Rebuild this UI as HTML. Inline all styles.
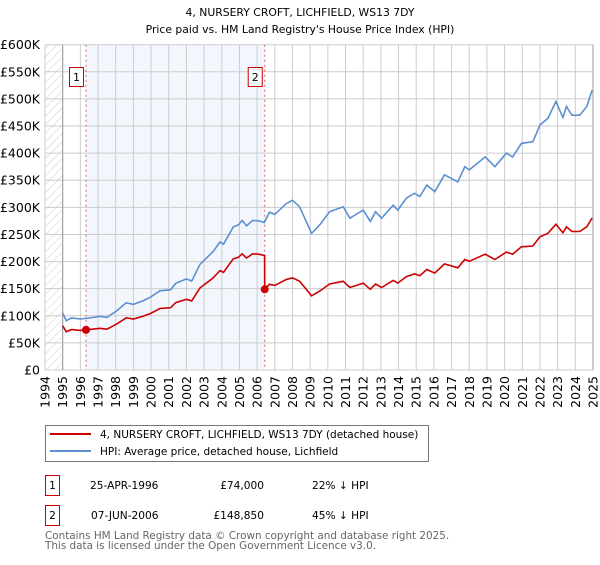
<!DOCTYPE html>
<html><head><meta charset="utf-8"><style>
body{margin:0;background:#fff;font-family:"Liberation Sans","DejaVu Sans",sans-serif;}
svg text{font-family:"DejaVu Sans","Liberation Sans",sans-serif;}
</style></head><body>
<svg id="chart" width="600" height="560" xmlns="http://www.w3.org/2000/svg">
<defs><pattern id="hatch" width="6" height="6" patternUnits="userSpaceOnUse" patternTransform="rotate(45)"><line x1="0" y1="0" x2="0" y2="6" stroke="#ccc" stroke-width="1"/></pattern></defs>
<text x="300" y="16" text-anchor="middle" font-size="10.8" fill="#000">4, NURSERY CROFT, LICHFIELD, WS13 7DY</text>
<text x="300" y="33" text-anchor="middle" font-size="10.8" fill="#000">Price paid vs. HM Land Registry's House Price Index (HPI)</text>
<g id="plot"></g>
<g>
<rect x="45.5" y="425.5" width="383" height="36" fill="#fff" stroke="#777"/>
<line x1="50" y1="434" x2="91" y2="434" stroke="#cc0000" stroke-width="2"/>
<text x="100" y="438" font-size="10.5">4, NURSERY CROFT, LICHFIELD, WS13 7DY (detached house)</text>
<line x1="50" y1="451" x2="91" y2="451" stroke="#5b8fd1" stroke-width="2"/>
<text x="100" y="455" font-size="10.5">HPI: Average price, detached house, Lichfield</text>
</g>
<g font-size="10.6">
<rect x="45.5" y="475.5" width="14" height="20" fill="#fff" stroke="#cc0000"/>
<text x="52.5" y="489" text-anchor="middle">1</text>
<text x="90" y="489">25-APR-1996</text>
<text x="264" y="489" text-anchor="end">£74,000</text>
<text x="312" y="489">22% ↓ HPI</text>
<rect x="45.5" y="505.5" width="14" height="20" fill="#fff" stroke="#cc0000"/>
<text x="52.5" y="519" text-anchor="middle">2</text>
<text x="91" y="519">07-JUN-2006</text>
<text x="264" y="519" text-anchor="end">£148,850</text>
<text x="312" y="519">45% ↓ HPI</text>
</g>
<text x="45" y="539" font-size="10.4" fill="#666">Contains HM Land Registry data © Crown copyright and database right 2025.</text>
<text x="45" y="549" font-size="10.4" fill="#666">This data is licensed under the Open Government Licence v3.0.</text>
</svg>
<script>
const hpiYears=[1995.0,1995.2,1995.5,1996.0,1996.5,1997.1,1997.5,1998.05,1998.6,1999.0,1999.5,1999.95,2000.5,2001.1,2001.4,2002.0,2002.3,2002.77,2003.5,2003.9,2004.1,2004.65,2004.95,2005.15,2005.4,2005.75,2006.1,2006.4,2006.7,2007.0,2007.65,2008.0,2008.4,2009.08,2009.55,2010.1,2010.87,2011.25,2012.0,2012.4,2012.7,2013.04,2013.7,2013.95,2014.45,2014.9,2015.2,2015.6,2016.05,2016.6,2017.35,2017.75,2018.0,2018.9,2019.45,2020.1,2020.45,2020.95,2021.6,2022.0,2022.45,2022.9,2023.3,2023.5,2023.8,2024.25,2024.65,2024.95];
const hpiValues=[105,91,96,94,96,99,97,109,124,121,127,134,146,148,160,168,164,195,218,236,232,264,268,276,266,276,275,272,291,287,307,313,301,252,268,292,301,280,295,274,292,280,304,295,317,326,320,341,329,360,347,375,369,393,375,400,393,418,421,452,464,495,466,486,470,470,486,516];
const saleYears=[1996.32,2006.43];
const salePrices=[74000,148850];
const saleLabels=["1","2"];
const yTicks=[0,50,100,150,200,250,300,350,400,450,500,550,600];
const yTickLabels=["£0","£50K","£100K","£150K","£200K","£250K","£300K","£350K","£400K","£450K","£500K","£550K","£600K"];
const xTicks=[1994,1995,1996,1997,1998,1999,2000,2001,2002,2003,2004,2005,2006,2007,2008,2009,2010,2011,2012,2013,2014,2015,2016,2017,2018,2019,2020,2021,2022,2023,2024,2025];

const X0=45,X1=593,Y0=370,Y1=44.7;
const xs=y=>X0+(y-1994)/(2025-1994)*(X1-X0);
const ys=v=>Y0-v/600*(Y0-Y1);
const NS="http://www.w3.org/2000/svg";
const g=document.getElementById('plot');
function mk(t,a,p){const e=document.createElementNS(NS,t);for(const k in a)e.setAttribute(k,a[k]);(p||g).appendChild(e);return e;}
function hpiAt(y){for(let i=0;i<hpiYears.length-1;i++){if(y<=hpiYears[i+1]){const t=(y-hpiYears[i])/(hpiYears[i+1]-hpiYears[i]);return hpiValues[i]+t*(hpiValues[i+1]-hpiValues[i]);}}return hpiValues[hpiValues.length-1];}

let e=mk('rect',{x:X0,y:Y1,width:X1-X0,height:Y0-Y1,fill:'#fff'});


e=mk('rect',{x:xs(saleYears[0]),y:Y1,width:xs(saleYears[1])-xs(saleYears[0]),height:Y0-Y1,fill:'#eef3fc',opacity:0.7});


e=mk('rect',{x:X0,y:Y1,width:xs(1995)-X0,height:Y0-Y1,fill:'url(#hatch)'});


yTicks.forEach((v,i)=>{
 let l=mk('line',{x1:X0,x2:X1,y1:ys(v),y2:ys(v),stroke:'#ccc','stroke-width':1});
 
 
 let t=mk('text',{x:40,y:ys(v)+4.5,'text-anchor':'end','font-size':12.5,fill:'#000'});
 t.textContent=yTickLabels[i];
 
 
});
xTicks.forEach(yr=>{
 let l=mk('line',{x1:xs(yr),x2:xs(yr),y1:Y1,y2:Y0,stroke:'#ccc','stroke-width':1});
 
 
 let t=mk('text',{x:0,y:0,'text-anchor':'end','font-size':12.5,fill:'#000',transform:`translate(${xs(yr)+4.5},376) rotate(-90)`});
 t.textContent=yr;
 
 
});
e=mk('line',{x1:xs(1995),x2:xs(1995),y1:Y1,y2:Y0,stroke:'#999','stroke-width':1});


e=mk('line',{x1:X1,x2:X1,y1:Y1,y2:Y0,stroke:'#999','stroke-width':1});


saleYears.forEach((sy,i)=>{
 let l=mk('line',{x1:xs(sy),x2:xs(sy),y1:Y1,y2:Y0,stroke:'#e06060','stroke-width':1,'stroke-dasharray':'2,3'});
 
 
});
let d=hpiYears.map((y,i)=>(i?'L':'M')+xs(y).toFixed(1)+','+ys(hpiValues[i]).toFixed(1)).join('');
e=mk('path',{d:d,fill:'none',stroke:'#5b8fd1','stroke-width':1.6});


const f0=salePrices[0]/1000/hpiAt(saleYears[0]);
const f1=salePrices[1]/1000/hpiAt(saleYears[1]);
let pts=[];
hpiYears.forEach((y,i)=>{ if(y<saleYears[1]) pts.push([y,hpiValues[i]*f0]); });
pts.push([saleYears[1]-0.01,hpiAt(saleYears[1])*f0]);
pts.push([saleYears[1],salePrices[1]/1000]);
hpiYears.forEach((y,i)=>{ if(y>saleYears[1]) pts.push([y,hpiValues[i]*f1]); });
d=pts.map((p,i)=>(i?'L':'M')+xs(p[0]).toFixed(1)+','+ys(p[1]).toFixed(1)).join('');
e=mk('path',{d:d,fill:'none',stroke:'#cc0000','stroke-width':1.6});


saleYears.forEach((sy,i)=>{
 let c=mk('circle',{cx:xs(sy),cy:ys(salePrices[i]/1000),r:4,fill:'#cc0000'});
 
 
 let r=mk('rect',{x:xs(sy)-16.5,y:67.5,width:14,height:19,fill:'#fff',stroke:'#cc0000'});
 
 
 let t=mk('text',{x:xs(sy)-9.5,y:81,'text-anchor':'middle','font-size':11,fill:'#000'});
 t.textContent=saleLabels[i];
 
 
});
</script>
</body></html>
